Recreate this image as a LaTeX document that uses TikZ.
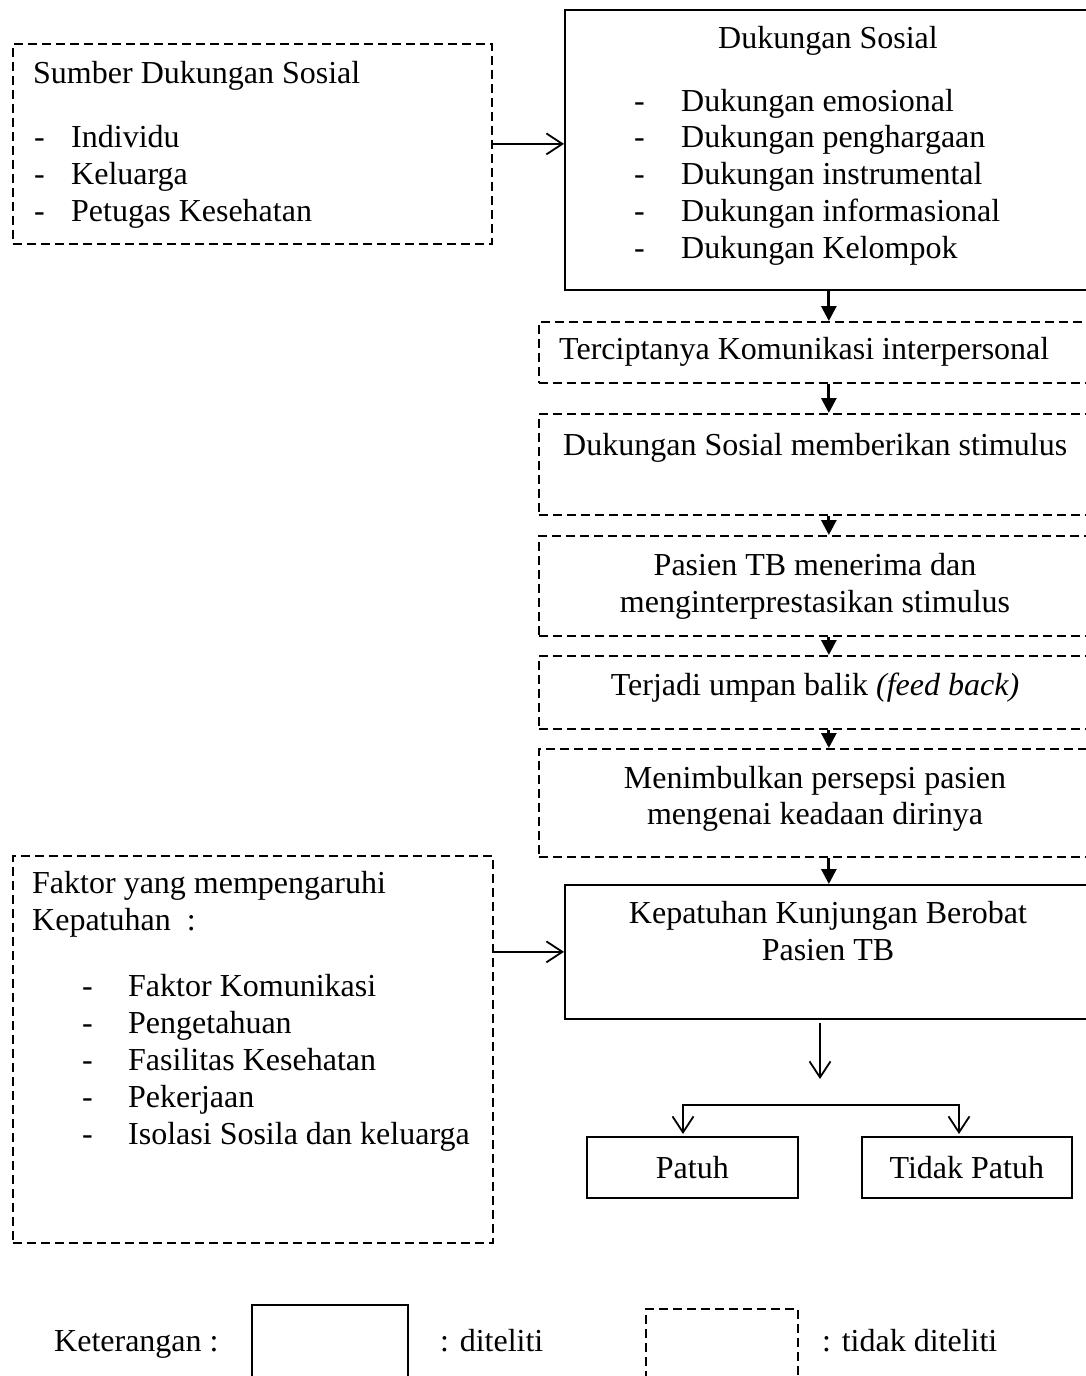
\documentclass[tikz,border=0pt]{standalone}
\usepackage{fontspec}
\setmainfont{Liberation Serif}
\usetikzlibrary{arrows.meta}
\tikzset{
  fnt/.style={font=\fontsize{32}{37}\selectfont},
  dbox/.style={draw, rectangle, line width=1.8pt, dash pattern=on 9pt off 5pt, inner sep=0pt, anchor=north west},
  sbox/.style={draw, rectangle, line width=1.7pt, inner sep=0pt, anchor=north west},
  txt/.style={fnt, inner sep=0pt, anchor=base west},
  ctxt/.style={fnt, inner sep=0pt, anchor=base},
  fa/.style={line width=2.8pt, -{Triangle[length=15pt,width=15pt]}},
  oa/.style={line width=1.8pt, -{Straight Barb[length=16pt,width=21pt]}},
}
\begin{document}
\begin{tikzpicture}[x=1pt,y=-1pt]
\useasboundingbox (0,0) rectangle (1086,1376);
\fill[white] (0,0) rectangle (1086,1376);

% ---------- boxes ----------
\node[dbox, minimum width=479pt, minimum height=200pt] (b1) at (12,43) {};
\node[sbox, minimum width=528pt, minimum height=280pt] (b2) at (564,9) {};
\node[dbox, minimum width=556pt, minimum height=61pt]  (b3) at (538,321) {};
\node[dbox, minimum width=556pt, minimum height=101pt] (b4) at (538,413) {};
\node[dbox, minimum width=556pt, minimum height=100pt] (b5) at (538,535) {};
\node[dbox, minimum width=556pt, minimum height=73pt]  (b6) at (538,655) {};
\node[dbox, minimum width=556pt, minimum height=108pt] (b7) at (538,748) {};
\node[sbox, minimum width=528pt, minimum height=134pt] (b8) at (564,884) {};
\node[dbox, minimum width=480pt, minimum height=387pt] (f) at (12,855) {};
\node[sbox, fnt, minimum width=211pt, minimum height=61pt] (patuh) at (586,1136) {Patuh};
\node[sbox, fnt, minimum width=210pt, minimum height=61pt] (tidak) at (861,1136) {Tidak Patuh};
\node[sbox, minimum width=156pt, minimum height=110pt] (lg1) at (251,1304) {};
\node[dbox, minimum width=152pt, minimum height=110pt] (lg2) at (645,1308) {};

% ---------- texts ----------
\node[txt] (t1) at (33,83) {Sumber Dukungan Sosial};
\node[txt] (d11) at (34,147) {-};
\node[txt] (i11) at (71,147) {Individu};
\node[txt] (d12) at (34,184) {-};
\node[txt] (i12) at (71,184) {Keluarga};
\node[txt] (d13) at (34,221) {-};
\node[txt] (i13) at (71,221) {Petugas Kesehatan};

\node[ctxt] (t2) at (828,48) {Dukungan Sosial};
\node[txt] (d21) at (634,111) {-};
\node[txt] (i21) at (681,111) {Dukungan emosional};
\node[txt] (d22) at (634,147) {-};
\node[txt] (i22) at (681,147) {Dukungan penghargaan};
\node[txt] (d23) at (634,184) {-};
\node[txt] (i23) at (681,184) {Dukungan instrumental};
\node[txt] (d24) at (634,221) {-};
\node[txt] (i24) at (681,221) {Dukungan informasional};
\node[txt] (d25) at (634,258) {-};
\node[txt] (i25) at (681,258) {Dukungan Kelompok};

\node[txt] (t3) at (559,359) {Terciptanya Komunikasi interpersonal};
\node[txt] (t4) at (563,455) {Dukungan Sosial memberikan stimulus};
\node[ctxt] (t5a) at (815,575) {Pasien TB menerima dan};
\node[ctxt] (t5b) at (815,612) {menginterprestasikan stimulus};
\node[ctxt] (t6) at (815,695) {Terjadi umpan balik \textit{(feed back)}};
\node[ctxt] (t7a) at (815,788) {Menimbulkan persepsi pasien};
\node[ctxt] (t7b) at (815,824) {mengenai keadaan dirinya};
\node[ctxt] (t8a) at (828,923) {Kepatuhan Kunjungan Berobat};
\node[ctxt] (t8b) at (828,960) {Pasien TB};

\node[txt] (tf1) at (32,893) {Faktor yang mempengaruhi};
\node[txt] (tf2) at (32,930) {Kepatuhan\ \ :};
\node[txt] (df1) at (82,996) {-};
\node[txt] (if1) at (128,996) {Faktor Komunikasi};
\node[txt] (df2) at (82,1033) {-};
\node[txt] (if2) at (128,1033) {Pengetahuan};
\node[txt] (df3) at (82,1070) {-};
\node[txt] (if3) at (128,1070) {Fasilitas Kesehatan};
\node[txt] (df4) at (82,1107) {-};
\node[txt] (if4) at (128,1107) {Pekerjaan};
\node[txt] (df5) at (82,1144) {-};
\node[txt] (if5) at (128,1144) {Isolasi Sosila dan keluarga};

\node[txt] (k1) at (54,1351) {Keterangan :};
\node[txt] (k2) at (440,1351) {: diteliti};
\node[txt] (k3) at (822,1351) {: tidak diteliti};

% ---------- connectors ----------
\draw[oa] (b1.east) -- (b1.east -| b2.west);
\draw[oa] (b8.west -| f.east) -- (b8.west);

\draw[fa] (b2.south) -- (b2.south |- b3.north);
\draw[fa] (b2.south |- b3.south) -- (b2.south |- b4.north);
\draw[fa] (b2.south |- b4.south) -- (b2.south |- b5.north);
\draw[fa] (b2.south |- b5.south) -- (b2.south |- b6.north);
\draw[fa] (b2.south |- b6.south) -- (b2.south |- b7.north);
\draw[fa] (b2.south |- b7.south) -- (b2.south |- b8.north);

\coordinate (d1) at (820,1023);
\coordinate (d2) at (820,1079);
\draw[oa] (d1) -- (d2);
\coordinate (bl) at (683,1105);
\coordinate (brr) at (959,1105);
\draw[line width=1.8pt, {Straight Barb[length=16pt,width=21pt]}-{Straight Barb[length=16pt,width=21pt]}, shorten <=2pt, shorten >=2pt]
  (bl |- patuh.north) -- (bl) -- (brr) -- (brr |- tidak.north);
\end{tikzpicture}
\end{document}
